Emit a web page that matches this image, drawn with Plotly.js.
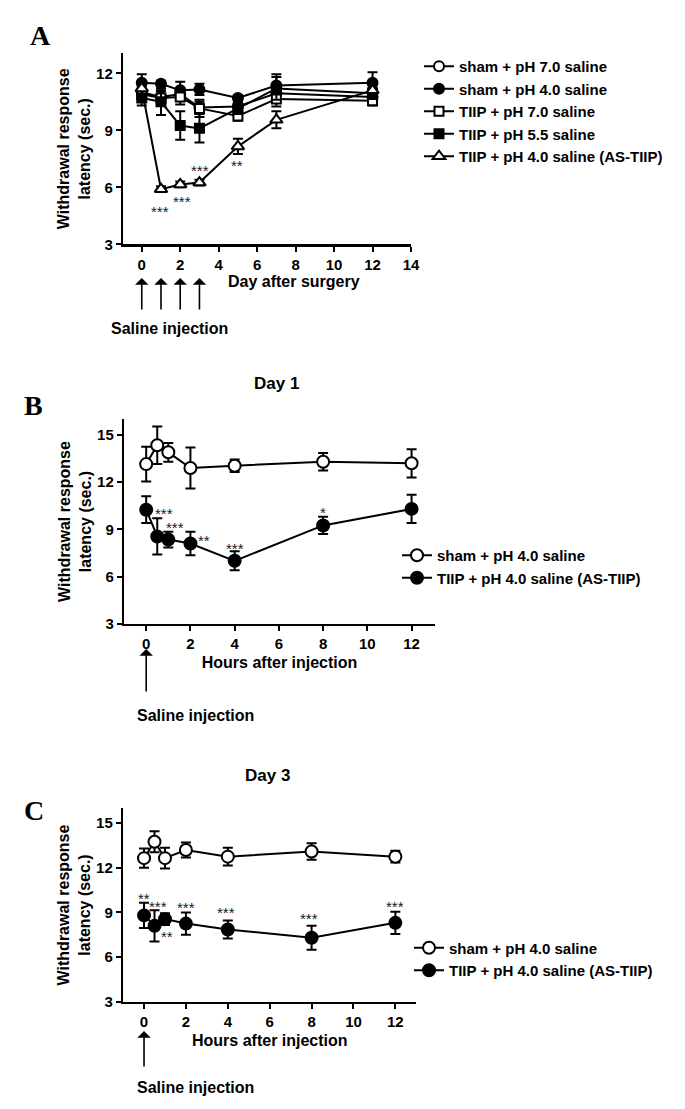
<!DOCTYPE html>
<html>
<head>
<meta charset="utf-8">
<script src="https://cdn.plot.ly/plotly-3.0.1.min.js"></script>
<style>
html,body{margin:0;padding:0;background:#fff;}
#chart{width:685px;height:1109px;}
</style>
</head>
<body>
<div id="chart"></div>
<script>
// ---------- Data ----------
// Panel A: days after surgery
const daysA = [0, 1, 2, 3, 5, 7, 12];
const sham70 = [11.0, 10.75, 10.9, 10.2, 10.25, 10.95, 10.75];
const sham70Err = [0.3, 0.3, 0.3, 0.3, 0.3, 0.4, 0.3];
const sham40 = [11.5, 11.45, 11.1, 11.15, 10.7, 11.35, 11.5];
const sham40Err = [0.45, 0.15, 0.45, 0.3, 0.15, 0.6, 0.55];
const tiip70 = [10.9, 10.7, 10.75, 10.15, 9.75, 10.65, 10.55];
const tiip70Err = [0.3, 0.4, 0.4, 0.45, 0.25, 0.4, 0.25];
const tiip55 = [10.7, 10.5, 9.25, 9.1, 10.15, 11.2, 10.95];
const tiip55Err = [0.4, 0.7, 0.75, 0.75, 0.3, 0.6, 0.3];
const tiip40 = [11.2, 5.9, 6.15, 6.25, 8.15, 9.55, 11.1];
const tiip40Err = [0.3, 0.15, 0.15, 0.15, 0.4, 0.45, 0.3];
const namesA = ['sham + pH 7.0 saline', 'sham + pH 4.0 saline', 'TIIP + pH 7.0 saline', 'TIIP + pH 5.5 saline', 'TIIP + pH 4.0 saline (AS-TIIP)'];
const starsAx = [0.95, 2.07, 3.05, 4.95];
const starsAy = [4.75, 5.25, 6.9, 7.15];
const starsAtext = ['***', '***', '***', '**'];
const injectionDaysA = [0, 1, 2, 3];

// Panels B and C: hours after injection
const hoursBC = [0, 0.5, 1, 2, 4, 8, 12];
const namesBC = ['sham + pH 4.0 saline', 'TIIP + pH 4.0 saline (AS-TIIP)'];
const day1Sham = [13.15, 14.35, 13.9, 12.9, 13.05, 13.3, 13.2];
const day1ShamErr = [1.1, 1.2, 0.6, 1.3, 0.4, 0.55, 0.9];
const day1Tiip = [10.25, 8.55, 8.35, 8.1, 7.0, 9.25, 10.3];
const day1TiipErr = [0.85, 1.15, 0.5, 0.75, 0.6, 0.55, 0.9];
const starsBx = [0.8, 1.3, 2.6, 4.0, 8.0];
const starsBy = [10.0, 9.1, 8.3, 7.8, 10.1];
const starsBtext = ['***', '***', '**', '***', '*'];

const day3Sham = [12.65, 13.75, 12.65, 13.2, 12.75, 13.1, 12.75];
const day3ShamErr = [0.65, 0.7, 0.7, 0.5, 0.6, 0.55, 0.4];
const day3Tiip = [8.8, 8.1, 8.55, 8.25, 7.85, 7.3, 8.3];
const day3TiipErr = [0.85, 1.05, 0.4, 0.75, 0.6, 0.8, 0.75];
const starsCx = [0, 0.68, 1.08, 2.0, 3.92, 7.9, 12];
const starsCy = [9.95, 9.4, 7.35, 9.35, 9.0, 8.6, 9.4];
const starsCtext = ['**', '***', '**', '***', '***', '***', '***'];

const yTicks = [3, 6, 9, 12, 15];
const xTicksA = [0, 2, 4, 6, 8, 10, 12, 14];
const xTicksBC = [0, 2, 4, 6, 8, 10, 12];

// ---------- Helpers ----------
const W = 685, H = 1109;
const px = v => v / W;
const py = v => 1 - v / H;
const FONT = 'Liberation Sans, Arial, sans-serif';
const bold = (size) => ({family: FONT, size: size, color: '#000', weight: 'bold'});

function series(x, y, err, name, symbol, fill, xa, ya, leg, size) {
  return {
    type: 'scatter', mode: 'lines+markers', x: x, y: y, name: name,
    xaxis: xa, yaxis: ya, legend: leg, cliponaxis: false,
    line: {color: '#000', width: 2},
    marker: {symbol: symbol, size: size, color: fill, line: {color: '#000', width: 2}},
    error_y: {type: 'data', array: err, visible: true, color: '#000', thickness: 2, width: 5}
  };
}

const traces = [
  series(daysA, sham70, sham70Err, namesA[0], 'circle', '#fff', 'x', 'y', 'legend', 10),
  series(daysA, sham40, sham40Err, namesA[1], 'circle', '#000', 'x', 'y', 'legend', 10),
  series(daysA, tiip70, tiip70Err, namesA[2], 'square', '#fff', 'x', 'y', 'legend', 9),
  series(daysA, tiip55, tiip55Err, namesA[3], 'square', '#000', 'x', 'y', 'legend', 9),
  series(daysA, tiip40, tiip40Err, namesA[4], 'triangle-up', '#fff', 'x', 'y', 'legend', 11),
  series(hoursBC, day1Sham, day1ShamErr, namesBC[0], 'circle', '#fff', 'x2', 'y2', 'legend2', 12),
  series(hoursBC, day1Tiip, day1TiipErr, namesBC[1], 'circle', '#000', 'x2', 'y2', 'legend2', 12),
  series(hoursBC, day3Sham, day3ShamErr, namesBC[0], 'circle', '#fff', 'x3', 'y3', 'legend3', 12),
  series(hoursBC, day3Tiip, day3TiipErr, namesBC[1], 'circle', '#000', 'x3', 'y3', 'legend3', 12)
];

function xAxis(domain, range, ticks, anchor) {
  return {
    domain: domain, range: range, anchor: anchor, tickvals: ticks, ticktext: ticks.map(String),
    showline: true, linecolor: '#000', linewidth: 2.5, ticks: 'outside', ticklen: 5, tickwidth: 2,
    tickcolor: '#000', showgrid: false, zeroline: false, tickfont: bold(15), fixedrange: true
  };
}
function yAxis(domain, range, anchor) {
  return {
    domain: domain, range: range, anchor: anchor, tickvals: yTicks, ticktext: yTicks.map(String),
    showline: true, linecolor: '#000', linewidth: 2.5, ticks: 'outside', ticklen: 5, tickwidth: 2,
    tickcolor: '#000', showgrid: false, zeroline: false, tickfont: bold(15), fixedrange: true,
    title: {text: 'Withdrawal response<br>latency (sec.)', font: bold(16), standoff: 2}
  };
}

const annotations = [];
function stars(xs, ys, texts, xr, yr) {
  xs.forEach((x, i) => annotations.push({
    x: x, y: ys[i], xref: xr, yref: yr, text: texts[i], showarrow: false,
    font: {family: FONT, size: 15, color: '#1a1a1a'}
  }));
}
stars(starsAx, starsAy, starsAtext, 'x', 'y');
stars(starsBx, starsBy, starsBtext, 'x2', 'y2');
stars(starsCx, starsCy, starsCtext, 'x3', 'y3');

function arrow(x, xr, headY, len) {
  annotations.push({x: x, xref: xr, y: py(headY), yref: 'paper', ax: 0, ay: len, text: '',
    showarrow: true, arrowhead: 1, arrowsize: 1.4, arrowwidth: 1.6, arrowcolor: '#000', standoff: 0});
}
injectionDaysA.forEach(d => arrow(d, 'x', 278, 33));
arrow(0, 'x2', 649, 44);
arrow(0, 'x3', 1031, 37);

function label(text, x, y, font) {
  annotations.push({text: text, x: px(x), y: py(y), xref: 'paper', yref: 'paper',
    showarrow: false, xanchor: 'center', yanchor: 'middle', font: font});
}
label('Day after surgery', 294, 282, bold(16));
label('Saline injection', 169, 328, bold(16));
label('Saline injection', 196, 715, bold(16));
label('Saline injection', 195, 1087, bold(16));
label('Day 1', 276, 383, bold(17));
label('Day 3', 267, 775, bold(17));
const serif = {family: 'Liberation Serif, Times New Roman, serif', size: 28, color: '#000', weight: 'bold'};
label('A', 40, 36, serif);
label('B', 33, 406, serif);
label('C', 34, 810, serif);

const legendBase = {xanchor: 'left', yanchor: 'top', bgcolor: 'rgba(0,0,0,0)', borderwidth: 0,
  font: bold(15), itemwidth: 30, tracegroupgap: 0};

const layout = {
  width: W, height: H, margin: {l: 0, r: 0, t: 0, b: 0},
  paper_bgcolor: '#fff', plot_bgcolor: '#fff', showlegend: true,
  xaxis: xAxis([px(123.3), px(411)], [-0.96, 14], xTicksA, 'y'),
  yaxis: yAxis([py(244.3), py(53.3)], [3, 13.05], 'x'),
  xaxis2: Object.assign(xAxis([px(124.3), px(434.8)], [-0.99, 13.05], xTicksBC, 'y2'),
    {title: {text: 'Hours after injection', font: bold(16), standoff: 6}}),
  yaxis2: yAxis([py(623.7), py(419.3)], [3, 16], 'x2'),
  xaxis3: Object.assign(xAxis([px(123.3), px(416.3)], [-0.99, 13.0], xTicksBC, 'y3'),
    {title: {text: 'Hours after injection', font: bold(16), standoff: 6}}),
  yaxis3: yAxis([py(1001.7), py(808.3)], [3, 16], 'x3'),
  legend: Object.assign({}, legendBase, {x: px(419), y: py(50)}),
  legend2: Object.assign({}, legendBase, {x: px(397), y: py(539)}),
  legend3: Object.assign({}, legendBase, {x: px(409), y: py(931.5)}),
  annotations: annotations
};

Plotly.newPlot('chart', traces, layout, {displayModeBar: false, staticPlot: true});
</script>
</body>
</html>
